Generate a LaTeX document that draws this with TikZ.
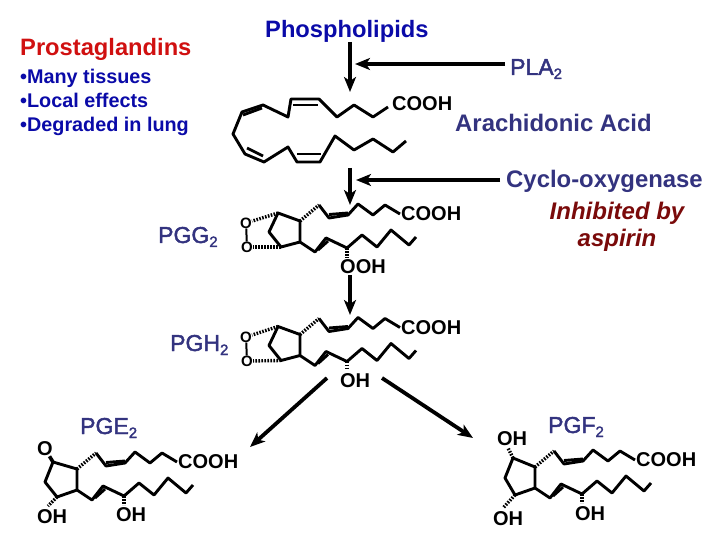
\documentclass[tikz,border=0pt]{standalone}
\usepackage{fontspec}
\setmainfont{Liberation Sans}
\newfontfamily\semib[FakeBold=2]{Liberation Sans}
\usetikzlibrary{arrows.meta}
\definecolor{navy}{HTML}{33337F}
\definecolor{dred}{HTML}{7A0A0A}
\definecolor{bred}{HTML}{D01010}
\definecolor{bblue}{HTML}{0A0AA8}
\newcommand{\subtwo}{\raisebox{-4pt}{\fontsize{15}{15}\selectfont 2}}
\tikzset{
  bond/.style={line width=2.9pt,line join=round,black},
  dash bond/.style={line width=3.4pt,black,dash pattern=on 1.6pt off 1.4pt},
  flow/.style={line width=3.8pt,black,-{Stealth[length=15pt,width=12pt,inset=4pt]}},
  chem/.style={inner sep=0pt,black,font=\bfseries\fontsize{20}{20}\selectfont},
  atom/.style={inner sep=0pt,black,font=\bfseries\fontsize{20}{20}\selectfont},
  smallatom/.style={inner sep=0pt,black,font=\bfseries\fontsize{15}{15}\selectfont},
  head/.style={inner sep=0pt,anchor=base west},
  bul/.style={head,font=\bfseries\fontsize{19.8}{19.8}\selectfont,bblue},
  navyb/.style={head,font=\semib\fontsize{23}{23}\selectfont,navy},
  navyc/.style={head,font=\bfseries\fontsize{23.9}{23.9}\selectfont,navy},
  inhib/.style={inner sep=0pt,anchor=base,font=\bfseries\itshape\fontsize{24}{24}\selectfont,dred}
}
\newcommand{\chains}[2]{%
 \begin{scope}[shift={(#1,#2)}]
  \draw[bond] (300,221) -- (300,242) -- (315,252) -- (326,238) -- (347,248) -- (362,235) -- (377,247) -- (391,230) -- (409,245) -- (416,237);
  \draw[bond] (319,205) -- (329,218) -- (348,215) -- (358,204) -- (373,215) -- (385,205) -- (400,214);
  \draw[bond] (329,214.5) -- (348,213);
  \draw[bond] (318,250) -- (328,241);
  \draw[dash bond] (300,221) -- (319,205);
  \node[chem,anchor=west] at (401,214) {COOH};
 \end{scope}}
\begin{document}
\begin{tikzpicture}[x=1pt,y=-1pt]
\useasboundingbox (0,0) rectangle (720,540);

% titles
\node[head,font=\bfseries\fontsize{23.7}{23.7}\selectfont,bblue] (phos) at (265,38) {Phospholipids};
\node[head,font=\bfseries\fontsize{23.7}{23.7}\selectfont,bred] (pros) at (20,56) {Prostaglandins};
\node[bul] (b1) at (20,84) {•Many tissues};
\node[bul] (b2) at (20,108) {•Local effects};
\node[bul] (b3) at (20,132) {•Degraded in lung};
\node[navyb] (pla) at (510,75) {PLA\subtwo};
\node[navyc] (ara) at (455,132) {Arachidonic Acid};
\node[navyc] (cyc) at (506,188) {Cyclo-oxygenase};
\node[inhib] (inh) at (617,220) {Inhibited by};
\node[inhib] (asp) at (617,247) {aspirin};
\node[navyb] (pgg) at (158,243) {PGG\subtwo};
\node[navyb] (pgh) at (170,351) {PGH\subtwo};
\node[navyb] (pge) at (80,434) {PGE\subtwo};
\node[navyb] (pgf) at (548,433) {PGF\subtwo};

% arachidonic acid
\draw[bond] (388,107) -- (373,117) -- (354,105) -- (337,117) -- (319,99) -- (291,99) -- (288,117) -- (263,105) -- (242,112) -- (233,134) -- (245,154) -- (264,162) -- (288,147) -- (297,162) -- (320,162) -- (335,136) -- (354,150) -- (373,139) -- (393,152) -- (406,141);
\draw[bond] (293,105) -- (318,105);
\draw[bond] (243,115) -- (262,108);
\draw[bond] (247,148) -- (263,156);
\draw[bond] (297,154) -- (321,154);
\node[chem,anchor=west] (aacooh) at (392,104) {COOH};

% PGG2
\chains{0}{0}
\draw[bond] (300,221) -- (278,213) -- (269,232) -- (281,247) -- (300,242);
\node[smallatom] (o1) at (246,223) {O};
\node[smallatom] (o2) at (247,247) {O};
\draw[bond,line width=2pt] (o1) -- (o2);
\draw[dash bond] (278,213) -- (o1);
\draw[dash bond] (281,247) -- (o2);
\coordinate (gc) at (347,248);
\node[chem,anchor=west] (ooh) at (340,267) {OOH};
\draw[dash bond] (gc) -- (347,258);

% PGH2
\chains{0}{113.5}
\draw[bond] (300,334.5) -- (278,326.5) -- (269,345.5) -- (281,360.5) -- (300,355.5);
\node[smallatom] (o3) at (246,337) {O};
\node[smallatom] (o4) at (247,361) {O};
\draw[bond,line width=2pt] (o3) -- (o4);
\draw[dash bond] (278,326.5) -- (o3);
\draw[dash bond] (281,360.5) -- (o4);
\coordinate (hc) at (347,361.5);
\node[atom] (hoh) at (355,381) {OH};
\draw[dash bond] (hc) -- (347,369);

% PGE2
\chains{-223}{248}
\draw[bond] (77,469) -- (53,462) -- (45,482) -- (57,497) -- (77,490);
\node[atom] (eo) at (45,449) {O};
\draw[bond,line width=3.6pt] (53,462) -- (eo);
\node[atom] (eoh1) at (52,517) {OH};
\coordinate (ec1) at (57,497);
\draw[dash bond] (ec1) -- (48,506);
\node[atom] (eoh2) at (131,515) {OH};
\coordinate (ec2) at (124,496);
\draw[dash bond] (ec2) -- (124,505);

% PGF2
\chains{235}{246}
\draw[bond] (535,467) -- (513,458) -- (505,478) -- (515,495) -- (535,488);
\node[atom] (foh1) at (512,439) {OH};
\coordinate (fc1) at (513,458);
\draw[dash bond] (fc1) -- (508,448);
\node[atom] (foh2) at (508,519) {OH};
\coordinate (fc2) at (515,495);
\draw[dash bond] (fc2) -- (503,508);
\node[atom] (foh3) at (590,514) {OH};
\coordinate (fc3) at (582,494);
\draw[dash bond] (fc3) -- (582,503);

% arrows
\coordinate (a1s) at (350,42); \coordinate (a1e) at (350,92);
\coordinate (a2s) at (505,64); \coordinate (a2e) at (355,64);
\coordinate (a3s) at (350,168); \coordinate (a3e) at (350,205);
\coordinate (a4s) at (500,180); \coordinate (a4e) at (356,180);
\coordinate (a5s) at (350,275); \coordinate (a5e) at (350,315);
\coordinate (a6s) at (327,378); \coordinate (a6e) at (250,447);
\coordinate (a7s) at (382,378); \coordinate (a7e) at (473,438);
\draw[flow] (a1s) -- (a1e);
\draw[flow] (a2s) -- (a2e);
\draw[flow] (a3s) -- (a3e);
\draw[flow] (a4s) -- (a4e);
\draw[flow] (a5s) -- (a5e);
\draw[flow] (a6s) -- (a6e);
\draw[flow] (a7s) -- (a7e);
\end{tikzpicture}
\end{document}
